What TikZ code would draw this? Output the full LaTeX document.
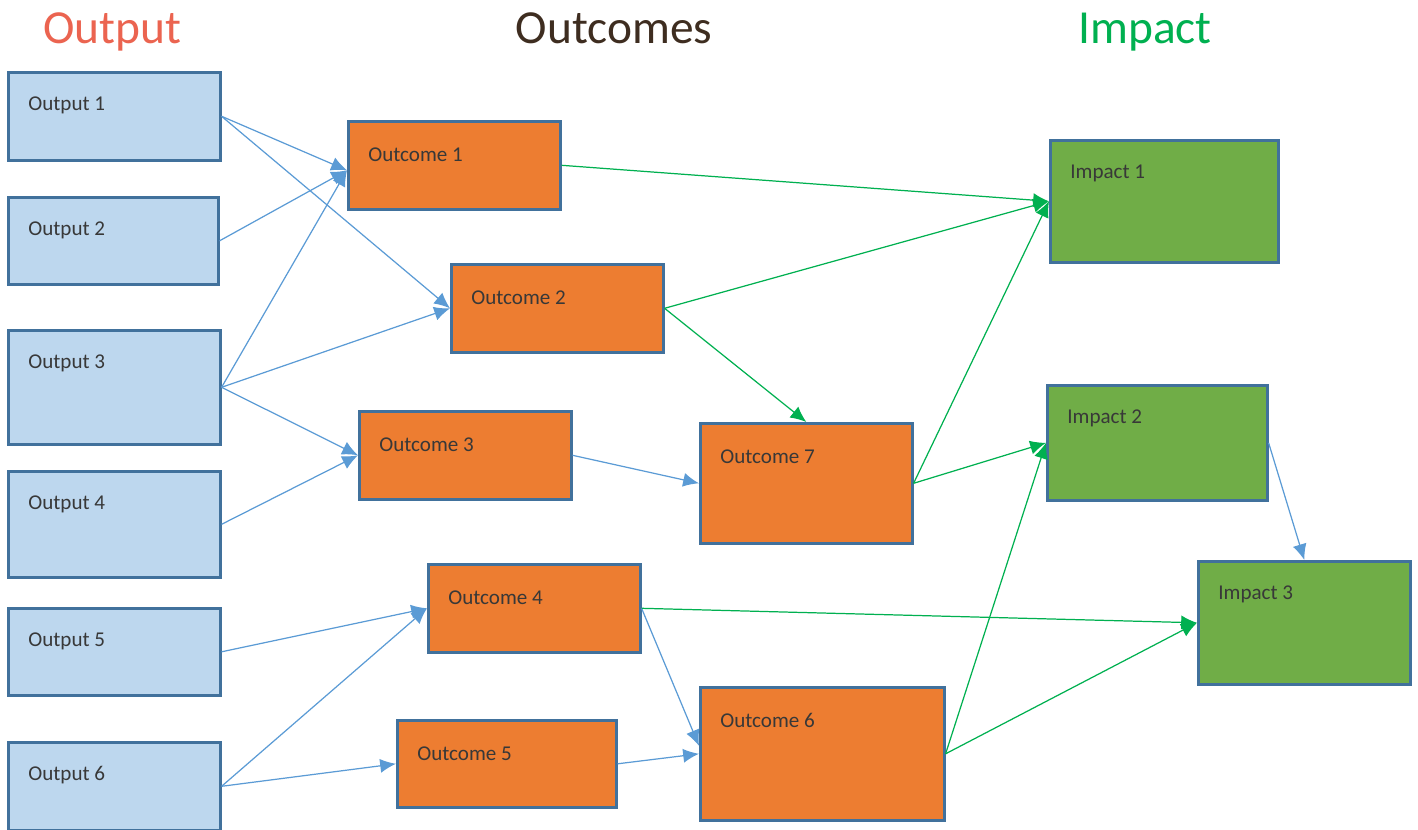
\documentclass[tikz,border=0pt]{standalone}
\usepackage{fontspec}
\setmainfont{Carlito}
\usetikzlibrary{arrows.meta}
\definecolor{outfill}{HTML}{BDD7EE}
\definecolor{ocfill}{HTML}{ED7D31}
\definecolor{imfill}{HTML}{70AD47}
\definecolor{edge}{HTML}{41719C}
\definecolor{bluel}{HTML}{5B9BD5}
\definecolor{greenl}{HTML}{00B050}
\definecolor{ink}{HTML}{383838}
\definecolor{hdred}{HTML}{EB6450}
\definecolor{hdbrown}{HTML}{3E2D20}

\begin{document}
\begin{tikzpicture}[x=0.02cm, y=-0.02cm, >={Latex[length=9pt,width=8pt]}, font=\fontsize{12}{14}\selectfont]
      \tikzstyle{blk}=[rectangle, draw=edge, line width=1.5pt, anchor=north west, inner sep=0pt]
      \tikzstyle{lbl}=[anchor=west, inner sep=0pt, xshift=0.42cm, yshift=-0.69cm, text=ink]
      \tikzstyle{outp}=[blk, fill=outfill]
      \tikzstyle{oc}=[blk, fill=ocfill]
      \tikzstyle{imp}=[blk, fill=imfill]
      \tikzstyle{head}=[anchor=base, font=\fontsize{27}{32}\selectfont]
      \tikzstyle{bluearr}=[->, draw=bluel, line width=0.7pt]
      \tikzstyle{greenarr}=[->, draw=greenl, line width=0.7pt]
      \useasboundingbox (0,0) rectangle (1418,830);
      % headings
      \node[head, text=hdred] (hout) at (112,44) {Output};
      \node[head, text=hdbrown] (hoc) at (614,44) {Outcomes};
      \node[head, text=greenl] (him) at (1145,44) {Impact};
      % outputs
      \node[outp, minimum width=4.24cm, minimum height=1.76cm, label={[lbl]north west:Output 1}] (op1) at (7,71) {};
      \node[outp, minimum width=4.20cm, minimum height=1.74cm, label={[lbl]north west:Output 2}] (op2) at (7,196) {};
      \node[outp, minimum width=4.24cm, minimum height=2.28cm, label={[lbl]north west:Output 3}] (op3) at (7,329) {};
      \node[outp, minimum width=4.24cm, minimum height=2.12cm, label={[lbl]north west:Output 4}] (op4) at (7,470) {};
      \node[outp, minimum width=4.24cm, minimum height=1.74cm, label={[lbl]north west:Output 5}] (op5) at (7,607) {};
      \node[outp, minimum width=4.24cm, minimum height=1.76cm, label={[lbl]north west:Output 6}] (op6) at (7,741) {};
      % outcomes
      \node[oc, minimum width=4.24cm, minimum height=1.76cm, label={[lbl]north west:Outcome 1}] (oc1) at (347,120) {};
      \node[oc, minimum width=4.24cm, minimum height=1.76cm, label={[lbl]north west:Outcome 2}] (oc2) at (450,263) {};
      \node[oc, minimum width=4.24cm, minimum height=1.76cm, label={[lbl]north west:Outcome 3}] (oc3) at (358,410) {};
      \node[oc, minimum width=4.24cm, minimum height=1.76cm, label={[lbl]north west:Outcome 4}] (oc4) at (427,563) {};
      \node[oc, minimum width=4.38cm, minimum height=1.74cm, label={[lbl]north west:Outcome 5}] (oc5) at (396,719) {};
      \node[oc, minimum width=4.88cm, minimum height=2.66cm, label={[lbl]north west:Outcome 6}] (oc6) at (699,686) {};
      \node[oc, minimum width=4.24cm, minimum height=2.40cm, label={[lbl]north west:Outcome 7}] (oc7) at (699,422) {};
      % impacts
      \node[imp, minimum width=4.56cm, minimum height=2.44cm, label={[lbl]north west:Impact 1}] (im1) at (1049,139) {};
      \node[imp, minimum width=4.40cm, minimum height=2.30cm, label={[lbl]north west:Impact 2}] (im2) at (1046,384) {};
      \node[imp, minimum width=4.24cm, minimum height=2.46cm, label={[lbl]north west:Impact 3}] (im3) at (1197,560) {};
      % output -> outcome
      \draw[bluearr] (op1.east) -- ([yshift=-0.1cm]oc1.west);
      \draw[bluearr] (op1.east) -- (oc2.west);
      \draw[bluearr] (op2.east) -- ([yshift=-0.1cm]oc1.west);
      \draw[bluearr] (op3.east) -- ([yshift=-0.1cm]oc1.west);
      \draw[bluearr] (op3.east) -- (oc2.west);
      \draw[bluearr] (op3.east) -- (oc3.west);
      \draw[bluearr] (op4.east) -- (oc3.west);
      \draw[bluearr] (op5.east) -- (oc4.west);
      \draw[bluearr] (op6.east) -- (oc4.west);
      \draw[bluearr] (op6.east) -- (oc5.west);
      \draw[bluearr] (oc3.east) -- (oc7.west);
      \draw[bluearr] (oc4.east) -- ([yshift=0.16cm]oc6.west);
      \draw[bluearr] (oc5.east) -- (oc6.west);
      \draw[bluearr] (im2.east) -- (im3.north);
      % outcome -> impact
      \draw[greenarr] (oc1.east) -- (im1.west);
      \draw[greenarr] (oc2.east) -- (im1.west);
      \draw[greenarr] (oc2.east) -- (oc7.north);
      \draw[greenarr] (oc7.east) -- (im1.west);
      \draw[greenarr] (oc7.east) -- (im2.west);
      \draw[greenarr] (oc4.east) -- (im3.west);
      \draw[greenarr] (oc6.east) -- (im2.west);
      \draw[greenarr] (oc6.east) -- (im3.west);
\end{tikzpicture}
\end{document}
